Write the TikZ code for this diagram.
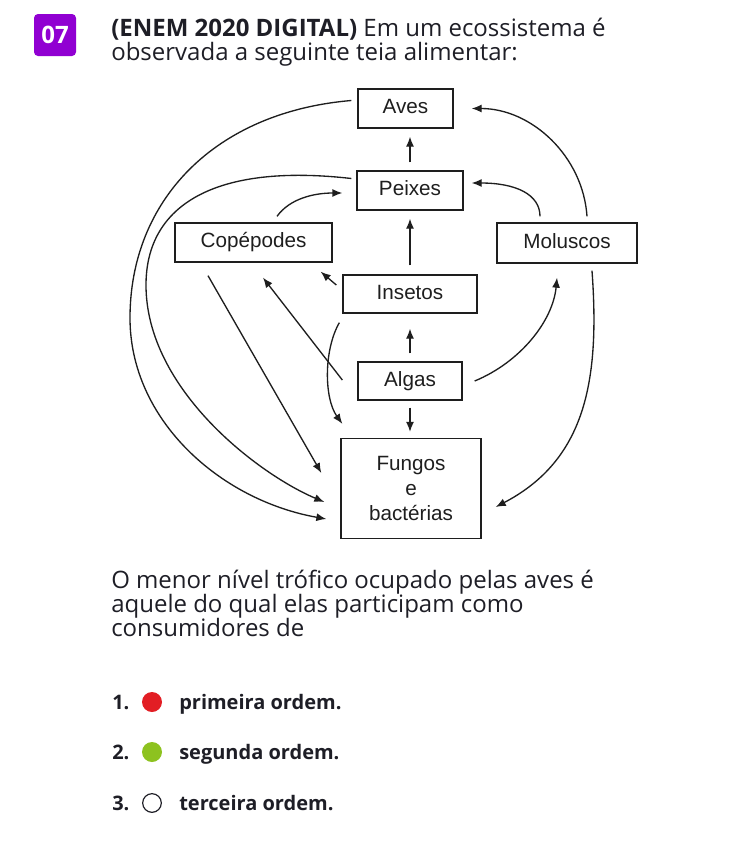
\documentclass[tikz,border=0pt]{standalone}
\usepackage{fontspec}
\setmainfont{Open Sans}
\newfontfamily\diagfont{Liberation Sans}
\usetikzlibrary{arrows.meta,calc}
\definecolor{purp}{RGB}{145,0,210}
\definecolor{txt}{RGB}{30,30,38}
\definecolor{redopt}{RGB}{226,30,36}
\definecolor{greenopt}{RGB}{141,194,31}
\definecolor{lin}{RGB}{30,30,30}
\begin{document}
\begin{tikzpicture}[x=0.75pt,y=-0.75pt,
  box/.style={draw=lin,line width=1pt,inner sep=0pt,text=lin,
    font=\diagfont\fontsize{15.5}{18}\selectfont,text height=11pt,text depth=3pt},
  arr/.style={draw=lin,line width=1pt,-{Latex[length=7.5pt,width=6pt]}},
  txtline/.style={anchor=base west,inner sep=0pt,text=txt,font=\fontsize{18}{18}\selectfont},
  optline/.style={anchor=base west,inner sep=0pt,text=txt,font=\bfseries\fontsize{15}{18}\selectfont},
  optdot/.style={circle,minimum size=15pt,inner sep=0pt}]
\useasboundingbox (0,0) rectangle (741,843);

% header
\node[fill=purp,rounded corners=3pt,minimum size=31.5pt,inner sep=0pt,text=white,
  font=\bfseries\fontsize{18}{18}\selectfont] (badge) at (55,35) {07};
\node[txtline] (h1) at (111,36) {\textbf{(ENEM 2020 DIGITAL)} Em um ecossistema é};
\node[txtline] (h2) at (111,60) {observada a seguinte teia alimentar:};

% boxes
\node[box,minimum width=71.25pt,minimum height=29.25pt] (aves) at (405.5,108.5) {Aves};
\node[box,minimum width=79.5pt,minimum height=29.25pt] (peixes) at (410,190.5) {Peixes};
\node[box,minimum width=117.75pt,minimum height=29.25pt] (cop) at (253.5,242.5) {Copépodes};
\node[box,minimum width=105pt,minimum height=30pt] (mol) at (567,243) {Moluscos};
\node[box,minimum width=100.5pt,minimum height=28.5pt] (ins) at (410,294) {Insetos};
\node[box,minimum width=78pt,minimum height=28.5pt] (alg) at (410,381) {Algas};
\node[draw=lin,line width=1pt,inner sep=0pt,text=lin,align=center,
  font=\diagfont\fontsize{15.5}{18.5}\selectfont,
  minimum width=105pt,minimum height=75pt] (fun) at (411,488.5) {Fungos\\e\\bactérias};

% straight vertical arrows
\draw[arr,shorten <=6pt,shorten >=6pt] (peixes.north) -- (peixes.north |- aves.south);
\draw[arr,shorten <=6.75pt,shorten >=6pt] (ins.north) -- (ins.north |- peixes.south);
\draw[arr,shorten <=6pt,shorten >=11.25pt] (alg.north) -- (alg.north |- ins.south);
\draw[arr,shorten <=5.25pt,shorten >=4.5pt] (alg.south) -- (alg.south |- fun.north);

% curved arrows
\draw[arr] ($(cop.north)+(23.5,-6)$) .. controls +(13,-18) and +(-28,0) .. ($(peixes.west)+(-14,2.5)$);
\draw[arr] ($(mol.north)+(-27,-6)$) .. controls +(0,-22) and +(44,0) .. ($(peixes.east)+(8,-7.5)$);
\draw[arr] ($(mol.north)+(20,-6)$) .. controls +(-4,-60) and +(60,0) .. ($(aves.east)+(18,0)$);
\draw[arr] ($(alg.east)+(12,0)$) .. controls +(46,-19) and +(-4,43) .. ($(mol.south)+(-10,14)$);
\draw[arr] ($(mol.south)+(25,7)$) .. controls +(8,110) and +(90,-47) .. ($(fun.east)+(14,18.5)$);
\draw[arr] ($(ins.west)+(-6,-9)$) -- ($(cop.south east)+(-12,9)$);
\draw[arr] ($(alg.west)+(-15,-1)$) -- ($(cop.south)+(9.5,15)$);
\draw[arr] ($(ins.south west)+(-3,9)$) .. controls +(-16,28) and +(-18,-25) .. ($(fun.north west)+(2,-14)$);
\draw[arr] ($(cop.south)+(-45.5,13)$) -- ($(fun.west)+(-19,-15.5)$);
\draw[arr] ($(peixes.west)+(-5,-12)$) .. controls (215,163) and (146,205) .. (146,285)
  .. controls (146,390) and (260,475) .. ($(fun.west)+(-16,13.5)$);
\draw[arr] ($(aves.west)+(-6,-8)$) .. controls (215,112) and (130,200) .. (130,318)
  .. controls (130,420) and (220,500) .. ($(fun.west)+(-14,30.5)$);

% question
\node[txtline] (q1) at (111,588) {O menor nível trófico ocupado pelas aves é};
\node[txtline] (q2) at (111,612) {aquele do qual elas participam como};
\node[txtline] (q3) at (111,636) {consumidores de};

% options
\node[optline] (n1) at (112,709) {1.};
\node[optdot,fill=redopt] (d1) at (152,702) {};
\node[optline] (o1) at (179,709) {primeira ordem.};
\node[optline] (n2) at (112,759) {2.};
\node[optdot,fill=greenopt] (d2) at (152,752) {};
\node[optline] (o2) at (179,759) {segunda ordem.};
\node[optline] (n3) at (112,810) {3.};
\node[optdot,draw=txt,line width=0.9pt,fill=white,minimum size=14pt] (d3) at (152,803) {};
\node[optline] (o3) at (179,810) {terceira ordem.};
\end{tikzpicture}
\end{document}
